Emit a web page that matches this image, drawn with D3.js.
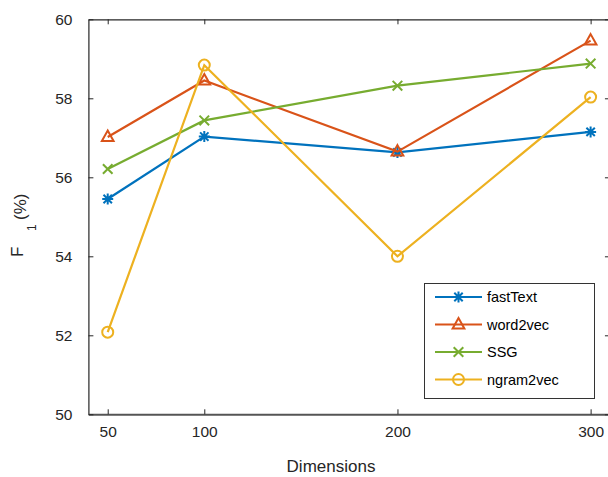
<!DOCTYPE html>
<html><head><meta charset="utf-8">
<script src="https://cdn.jsdelivr.net/npm/d3@7"></script>
<style>body{margin:0;background:#fff}svg{display:block}text{font-family:Helvetica,Arial,"Liberation Sans",sans-serif}</style>
</head><body><svg id="c" width="608" height="477"></svg>
<script>
const dims = [50, 100, 200, 300];
const seriesNames = ["fastText", "word2vec", "SSG", "ngram2vec"];
const fastText = [55.45, 57.03, 56.63, 57.15];
const word2vec = [57.02, 58.45, 56.65, 59.46];
const SSG = [56.21, 57.44, 58.32, 58.88];
const ngram2vec = [52.08, 58.84, 54.0, 58.03];
const xTicks = [50, 100, 200, 300];
const yTicks = [50, 52, 54, 56, 58, 60];
const colors = ["#0072BD", "#D95319", "#77AC30", "#EDB120"];
const markers = ["asterisk", "triangle", "cross", "circle"];

const series = [fastText, word2vec, SSG, ngram2vec].map((v, i) => ({name: seriesNames[i], values: v, color: colors[i], marker: markers[i]}));

const svg = d3.select("#c");
const L = 88.4, T = 19.3, B = 414.3;
const x = d3.scaleLinear().domain([40, 310]).range([L, L + 270 * 1.9316]);
const y = d3.scaleLinear().domain([50, 60]).range([B, T]);
const R = x(310);
const axisColor = "#262626";

// axes
const gx = svg.append("g").attr("transform", `translate(0,${B})`)
  .call(d3.axisBottom(x).tickValues(xTicks).tickSizeInner(-5).tickSizeOuter(0).tickPadding(12));
const gxTop = svg.append("g").attr("transform", `translate(0,${T})`)
  .call(d3.axisTop(x).tickValues(xTicks).tickSizeInner(-5).tickSizeOuter(0).tickFormat(""));
const gy = svg.append("g").attr("transform", `translate(${L},0)`)
  .call(d3.axisLeft(y).tickValues(yTicks).tickSizeInner(-5).tickSizeOuter(0).tickPadding(16));
const gyR = svg.append("g").attr("transform", `translate(${R},0)`)
  .call(d3.axisRight(y).tickValues(yTicks).tickSizeInner(-5).tickSizeOuter(0).tickFormat(""));
[gx, gxTop, gy, gyR].forEach(g => {
  g.select(".domain").attr("stroke", axisColor).attr("stroke-width", 1.2);
  g.selectAll(".tick line").attr("stroke", axisColor).attr("stroke-width", 1);
  g.selectAll(".tick text").attr("fill", axisColor).attr("font-size", 15.5);
});
gx.select(".domain").attr("stroke-width", 2).attr("stroke", "#555");

// lines
const line = d3.line().x((d, i) => x(dims[i])).y(d => y(d));
function drawMarker(g, type, cx, cy, color) {
  const m = g.append("g").attr("transform", `translate(${cx},${cy})`)
    .attr("stroke", color).attr("fill", "none").attr("stroke-width", 2);
  if (type === "asterisk") {
    const r = 5.5, r2 = 4.2;
    m.append("path").attr("d", `M${-r},0L${r},0M0,${-r}L0,${r}M${-r2},${-r2}L${r2},${r2}M${-r2},${r2}L${r2},${-r2}`);
  } else if (type === "triangle") {
    const s = 6.5;
    m.append("path").attr("d", `M0,${-s}L${s*0.9},${s*0.6}L${-s*0.9},${s*0.6}Z`);
  } else if (type === "cross") {
    const r = 4.8;
    m.append("path").attr("d", `M${-r},${-r}L${r},${r}M${-r},${r}L${r},${-r}`);
  } else {
    m.append("circle").attr("r", 5.5);
  }
}
series.forEach(s => {
  svg.append("path").datum(s.values).attr("d", line)
    .attr("fill", "none").attr("stroke", s.color).attr("stroke-width", 2.2);
  s.values.forEach((v, i) => drawMarker(svg, s.marker, x(dims[i]), y(v), s.color));
});

// legend
const lg = svg.append("g");
lg.append("rect").attr("x", 424.5).attr("y", 283.5).attr("width", 170).attr("height", 115)
  .attr("fill", "#fff").attr("stroke", "#333").attr("stroke-width", 1);
series.forEach((s, i) => {
  const yy = 297 + i * 27.5;
  lg.append("line").attr("x1", 435).attr("x2", 482).attr("y1", yy).attr("y2", yy)
    .attr("stroke", s.color).attr("stroke-width", 2.2);
  drawMarker(lg, s.marker, 458.5, yy, s.color);
  lg.append("text").attr("x", 487).attr("y", yy + 5).attr("font-size", 14.5).attr("fill", "#000").text(s.name);
});

// axis titles
svg.append("text").attr("x", 331).attr("y", 472).attr("text-anchor", "middle")
  .attr("font-size", 17).attr("fill", axisColor).text("Dimensions");
const ylg = svg.append("g").attr("transform", "rotate(-90)").attr("fill", axisColor);
ylg.append("text").attr("x", -257).attr("y", 23).attr("font-size", 17).text("F");
ylg.append("text").attr("x", -231).attr("y", 36).attr("font-size", 12).text("1");
ylg.append("text").attr("x", -220).attr("y", 26).attr("font-size", 17).text("(%)");
</script></body></html>
